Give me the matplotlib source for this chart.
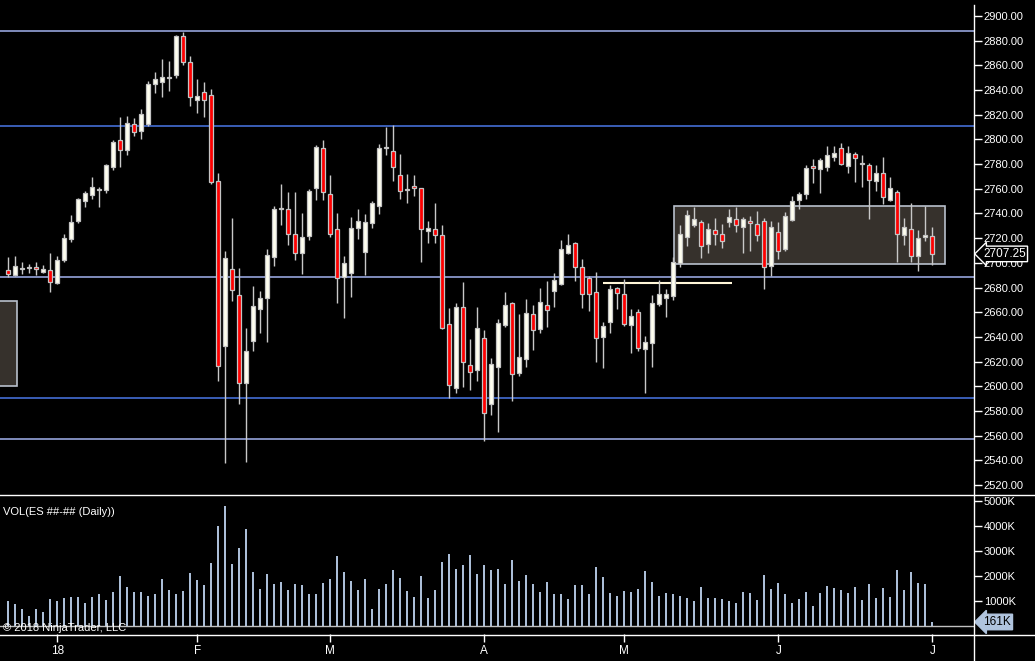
import numpy as np
import matplotlib
matplotlib.use('Agg')
import matplotlib.pyplot as plt
from matplotlib.patches import Rectangle
from matplotlib.lines import Line2D
import matplotlib.transforms as mtransforms

plt.rcParams['font.family'] = ['Liberation Sans', 'DejaVu Sans']

# daily ES bars
opens = [2693.9, 2690.2, 2695.3, 2696.2, 2696.4, 2692.9, 2694.0, 2683.7, 2702.6, 2719.6,
         2734.2, 2750.4, 2755.2, 2759.0, 2759.3, 2777.9, 2799.3, 2791.7, 2812.2, 2806.6,
         2812.8, 2844.6, 2846.3, 2849.8, 2851.9, 2883.5, 2862.5, 2832.2, 2838.2, 2835.7,
         2766.1, 2632.9, 2694.8, 2673.7, 2603.0, 2637.0, 2662.4, 2671.8, 2704.5, 2743.4,
         2743.4, 2723.6, 2707.7, 2722.0, 2760.4, 2792.8, 2755.5, 2727.1, 2688.3, 2692.1,
         2728.0, 2709.1, 2732.6, 2746.3, 2793.0, 2790.9, 2770.9, 2759.1, 2762.0, 2760.4,
         2725.5, 2727.1, 2722.3, 2650.2, 2598.9, 2664.0, 2617.0, 2613.5, 2638.8, 2585.4,
         2615.9, 2649.9, 2667.2, 2611.0, 2621.8, 2658.3, 2646.7, 2665.6, 2677.5, 2683.1,
         2708.2, 2715.8, 2696.4, 2687.5, 2676.1, 2639.6, 2652.4, 2679.4, 2674.5, 2649.9,
         2659.9, 2630.5, 2635.3, 2667.0, 2671.8, 2673.4, 2699.9, 2720.7, 2731.0, 2732.8,
         2715.6, 2726.4, 2723.1, 2732.8, 2735.3, 2728.8, 2733.6, 2731.2, 2733.6, 2697.2,
         2724.7, 2711.5, 2734.5, 2750.7, 2755.5, 2778.2, 2775.8, 2777.4, 2785.5, 2792.8,
         2778.2, 2787.9, 2780.4, 2779.0, 2766.1, 2772.5, 2750.7, 2757.1, 2722.3, 2727.2,
         2705.3, 2720.7, 2721.5]
highs = [2704.7, 2705.5, 2700.4, 2698.8, 2700.4, 2698.0, 2708.0, 2705.3, 2723.1, 2738.5,
         2752.3, 2758.0, 2769.3, 2761.2, 2779.8, 2799.3, 2817.9, 2818.7, 2817.1, 2824.4,
         2847.6, 2854.4, 2864.9, 2863.3, 2884.9, 2887.3, 2867.6, 2848.7, 2846.3, 2840.6,
         2772.5, 2709.3, 2736.1, 2695.6, 2647.2, 2681.3, 2677.2, 2711.0, 2745.8, 2763.9,
         2757.4, 2757.4, 2740.4, 2759.8, 2795.5, 2799.5, 2771.2, 2740.4, 2705.5, 2737.1,
         2743.6, 2739.6, 2750.1, 2796.3, 2810.3, 2811.7, 2788.2, 2772.0, 2771.2, 2761.0,
         2733.9, 2748.5, 2730.7, 2663.3, 2667.2, 2684.5, 2638.3, 2663.9, 2645.6, 2622.6,
         2654.2, 2676.4, 2668.6, 2658.6, 2670.7, 2666.1, 2679.6, 2685.3, 2691.5, 2718.5,
         2723.4, 2717.2, 2703.1, 2689.4, 2692.3, 2652.4, 2682.1, 2680.7, 2686.6, 2662.6,
         2662.6, 2640.7, 2674.0, 2686.1, 2678.8, 2704.5, 2730.4, 2743.0, 2745.5, 2734.7,
         2732.0, 2736.1, 2731.5, 2743.4, 2745.5, 2736.9, 2737.7, 2741.8, 2736.1, 2733.6,
         2732.8, 2740.9, 2753.9, 2757.1, 2779.0, 2783.9, 2784.7, 2794.4, 2794.4, 2796.8,
         2794.4, 2789.6, 2787.1, 2780.6, 2779.0, 2785.5, 2769.3, 2758.8, 2736.1, 2748.2,
         2726.4, 2745.8, 2728.8]
lows = [2688.3, 2689.4, 2691.0, 2692.0, 2690.2, 2692.0, 2676.7, 2682.9, 2701.0, 2717.2,
        2732.6, 2745.5, 2752.0, 2745.5, 2756.9, 2775.5, 2777.7, 2787.4, 2803.0, 2800.4,
        2810.9, 2837.9, 2834.6, 2839.5, 2850.0, 2860.6, 2827.4, 2821.4, 2818.2, 2764.2,
        2604.5, 2538.1, 2669.1, 2585.7, 2538.6, 2628.6, 2643.5, 2635.9, 2697.7, 2730.9,
        2714.7, 2702.6, 2691.2, 2718.8, 2751.2, 2751.2, 2721.2, 2667.7, 2655.6, 2672.6,
        2719.6, 2690.4, 2728.5, 2739.8, 2787.6, 2766.6, 2752.0, 2748.8, 2754.2, 2701.0,
        2716.4, 2716.4, 2646.1, 2590.2, 2594.8, 2599.4, 2597.0, 2604.3, 2555.9, 2577.0,
        2563.2, 2648.3, 2588.4, 2608.0, 2615.9, 2629.4, 2643.4, 2648.0, 2664.5, 2682.0,
        2707.2, 2685.3, 2663.2, 2661.0, 2620.0, 2615.0, 2643.4, 2662.3, 2649.1, 2627.0,
        2628.3, 2594.8, 2615.9, 2665.0, 2656.1, 2670.2, 2696.9, 2714.0, 2728.8, 2704.2,
        2708.3, 2714.7, 2712.3, 2728.8, 2725.3, 2708.3, 2709.9, 2718.0, 2679.1, 2689.6,
        2703.4, 2709.9, 2733.6, 2743.4, 2752.0, 2764.4, 2756.3, 2774.2, 2782.3, 2779.0,
        2772.5, 2765.8, 2761.7, 2735.8, 2757.9, 2747.4, 2749.8, 2701.0, 2714.2, 2701.0,
        2693.7, 2717.4, 2698.5]
closes = [2690.7, 2697.2, 2696.1, 2696.6, 2694.8, 2694.8, 2684.8, 2702.3, 2719.9, 2732.8,
          2751.5, 2756.3, 2761.2, 2759.5, 2779.0, 2797.6, 2791.7, 2813.0, 2805.8, 2820.3,
          2844.6, 2848.7, 2850.3, 2850.2, 2883.5, 2862.5, 2834.1, 2834.9, 2831.7, 2765.8,
          2616.7, 2703.7, 2677.7, 2602.3, 2628.5, 2664.9, 2671.3, 2706.1, 2743.4, 2743.8,
          2723.1, 2707.7, 2720.7, 2758.2, 2793.6, 2757.1, 2723.6, 2687.5, 2699.6, 2728.0,
          2733.6, 2732.8, 2748.2, 2792.8, 2793.5, 2777.4, 2758.2, 2759.5, 2760.4, 2727.1,
          2728.0, 2722.3, 2647.6, 2601.3, 2664.0, 2619.9, 2611.3, 2646.9, 2578.6, 2617.8,
          2651.0, 2665.6, 2609.7, 2623.5, 2659.1, 2645.3, 2668.0, 2661.5, 2685.8, 2711.0,
          2714.2, 2696.9, 2675.0, 2675.0, 2639.4, 2648.6, 2678.8, 2675.3, 2650.7, 2656.7,
          2631.3, 2635.6, 2667.2, 2674.5, 2674.5, 2700.4, 2723.1, 2738.5, 2735.3, 2713.4,
          2727.2, 2723.1, 2717.4, 2736.9, 2730.4, 2735.3, 2732.0, 2722.3, 2696.4, 2728.8,
          2709.3, 2737.7, 2749.8, 2755.5, 2776.6, 2776.6, 2783.1, 2787.1, 2788.7, 2779.8,
          2788.7, 2784.7, 2780.8, 2766.9, 2772.5, 2753.1, 2760.4, 2723.1, 2728.8, 2705.3,
          2719.9, 2722.3, 2707.25]
volume_k = [1000, 880, 680, 400, 680, 560, 1080, 1000, 1120, 1160,
            1160, 920, 1160, 1280, 1040, 1360, 2000, 1560, 1360, 1360,
            1200, 1280, 1880, 1440, 1280, 1400, 2120, 1840, 1640, 2520,
            4000, 4800, 2480, 3120, 3880, 2160, 1480, 2080, 1680, 1760,
            1440, 1680, 1640, 1280, 1280, 1720, 1880, 2800, 2160, 1800,
            1440, 1880, 680, 1480, 1680, 2240, 1920, 1400, 1160, 2000,
            1120, 1440, 2560, 2880, 2280, 2440, 2836, 2070, 2433, 2231,
            2271, 1667, 2634, 1788, 2030, 1667, 1344, 1747, 1263, 1263,
            1062, 1626, 1626, 1263, 2352, 1949, 1304, 1183, 1384, 1344,
            1465, 2191, 1747, 1183, 1304, 1263, 1183, 1102, 981, 1546,
            1102, 1102, 1062, 981, 901, 1344, 1304, 1022, 2030, 1465,
            1707, 1263, 901, 1062, 1344, 820, 1304, 1586, 1505, 1425,
            1304, 1546, 1022, 1667, 1102, 1505, 1142, 2231, 1425, 2151,
            1707, 1667, 161]

month_pos = [7, 27, 46, 68, 88, 110, 132]
month_labels = ['18', 'F', 'M', 'A', 'M', 'J', 'J']

# drawn levels
light_levels = [2887.6, 2688.3, 2557.0]
blue_levels = [2810.6, 2590.2]
short_level = 2683.4
zone_top, zone_bottom = 2745.8, 2698.8
old_zone_top, old_zone_bottom = 2669.1, 2600.4
last_price = 2707.25

W, H = 1035, 661
def fx(px):
    return px / W
def fy(py):
    return 1 - py / H

fig = plt.figure(figsize=(10.35, 6.61), dpi=100, facecolor='black')
ax = fig.add_axes([0, fy(494), fx(974), fy(5) - fy(494)], facecolor='black')
axv = fig.add_axes([0, fy(634), fx(974), fy(495) - fy(634)], facecolor='black', sharex=ax)

opens = np.array(opens); closes = np.array(closes)
highs = np.array(highs); lows = np.array(lows)
idx = np.arange(len(opens))

ax.set_xlim(-8.3 / 7, (974 - 8.3) / 7)
ax.set_ylim(2900 - 478 * 0.8102, 2900 + 11 * 0.8102)

for lv in light_levels:
    ax.axhline(lv, color='#a3b2ee', lw=1.1, zorder=1)
for lv in blue_levels:
    ax.axhline(lv, color='#4a78e6', lw=1.1, zorder=1)

ax.add_patch(Rectangle((95.1, zone_bottom), 38.7, zone_top - zone_bottom,
                       fc='#36312c', ec='#b8c0cc', lw=1.2, zorder=1))
ax.add_patch(Rectangle((-3, old_zone_bottom), 4.2, old_zone_top - old_zone_bottom,
                       fc='#36312c', ec='#b8c0cc', lw=1.2, zorder=1))
ax.hlines(short_level, 84.96, 103.4, color='#fff6d8', lw=1.5, zorder=1.5)

up = closes >= opens
body_col = np.where(up, '#fffff0', '#ff0000')
ax.vlines(idx, lows, highs, color='#c8c8c8', lw=1.0, zorder=2)
ax.bar(idx, np.maximum(np.abs(closes - opens), 0.7), bottom=np.minimum(opens, closes),
       width=0.6, color=body_col, edgecolor='#c4c4c4', linewidth=0.9, zorder=3)

ax.set_yticks(np.arange(2520, 2901, 20))
ax.set_yticklabels(['%.2f' % v for v in np.arange(2520, 2901, 20)])
ax.yaxis.tick_right()
ax.tick_params(axis='y', colors='white', labelsize=8, length=6, width=1, pad=1)
ax.tick_params(axis='x', bottom=False, labelbottom=False)
for s in ax.spines.values():
    s.set_visible(False)

trans = mtransforms.blended_transform_factory(ax.transAxes, ax.transData)
ax.text(1 + 9 / 974, last_price, '%.2f' % last_price, transform=trans, ha='left', va='center',
        color='white', fontsize=8.5, clip_on=False, zorder=6,
        bbox=dict(boxstyle='larrow,pad=0.15', fc='black', ec='white', lw=1))

# volume panel
axv.set_ylim(-320, 5240)
axv.vlines(idx, 0, volume_k, color='#b0c4de', lw=1.4, zorder=2)
axv.axhline(0, color='#c0c0c0', lw=1, zorder=1)
axv.set_yticks([1000, 2000, 3000, 4000, 5000])
axv.set_yticklabels(['%dK' % v for v in [1000, 2000, 3000, 4000, 5000]])
axv.yaxis.tick_right()
axv.tick_params(axis='y', colors='white', labelsize=8, length=6, width=1, pad=1)
axv.set_xticks(month_pos)
axv.set_xticklabels(month_labels)
axv.tick_params(axis='x', colors='white', labelsize=8.5, length=6, width=1, pad=2)
for s in axv.spines.values():
    s.set_visible(False)
transv = mtransforms.blended_transform_factory(axv.transAxes, axv.transData)
axv.text(1 + 9 / 974, volume_k[-1], '%dK' % volume_k[-1], transform=transv, ha='left', va='center',
         color='black', fontsize=8.5, clip_on=False, zorder=6,
         bbox=dict(boxstyle='larrow,pad=0.15', fc='#b0c4de', ec='#b0c4de', lw=1))
axv.text(3 / 974, 1 - 17 / 139, 'VOL(ES ##-## (Daily))', transform=axv.transAxes,
         color='white', fontsize=8, ha='left', va='center')

fig.text(fx(3), fy(628), '\u00a9 2018 NinjaTrader, LLC', color='white', fontsize=8,
         ha='left', va='center')

fig.add_artist(Line2D([0, 1], [fy(494.5)] * 2, color='white', lw=1))
fig.add_artist(Line2D([0, 1], [fy(634.5)] * 2, color='white', lw=1))
fig.add_artist(Line2D([fx(974)] * 2, [0, fy(5)], color='white', lw=1))

fig.savefig('out.png', dpi=100, facecolor='black')
